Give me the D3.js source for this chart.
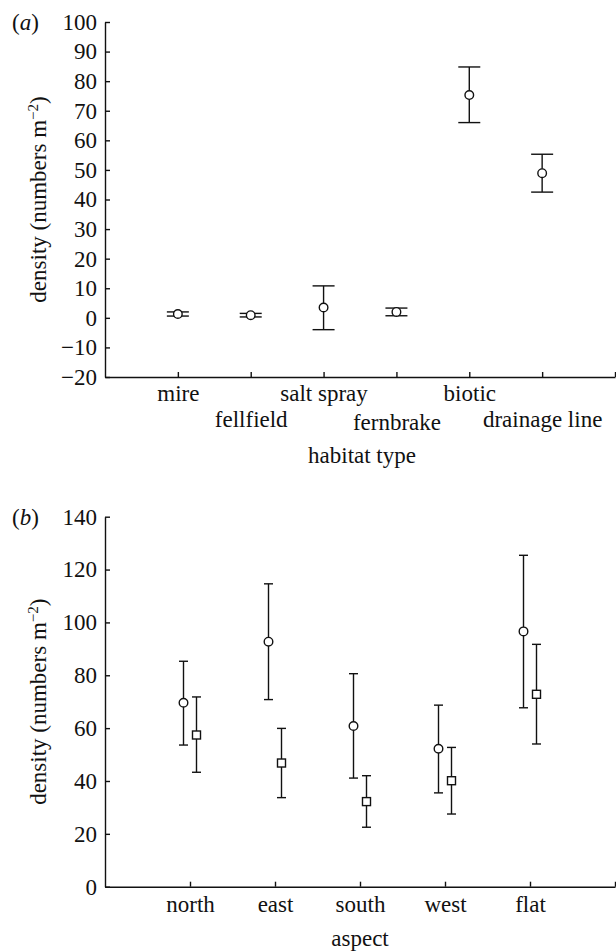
<!DOCTYPE html>
<html>
<head>
<meta charset="utf-8">
<script src="https://d3js.org/d3.v7.min.js"></script>
<style>
  body { margin: 0; background: #fff; }
  svg text { font-family: "Liberation Serif", "Times New Roman", serif; fill: #111; }
</style>
</head>
<body>
<svg id="chart"></svg>
<script>
  // panel (a): density by habitat type
  var habitats = ['mire', 'fellfield', 'salt spray', 'fernbrake', 'biotic', 'drainage line'];
  var habMean = [1.3, 0.9, 3.5, 2.0, 75.3, 48.9];
  var habLow = [0.6, 0.3, -4.0, 0.7, 66.0, 42.5];
  var habHigh = [2.0, 1.5, 10.8, 3.3, 84.8, 55.3];
  var yTicksA = [-20, -10, 0, 10, 20, 30, 40, 50, 60, 70, 80, 90, 100];

  // panel (b): density by aspect, two series (circles and squares)
  var aspects = ['north', 'east', 'south', 'west', 'flat'];
  var circMean = [69.6, 92.7, 60.8, 52.2, 96.6];
  var circLow = [53.6, 70.8, 41.1, 35.5, 67.7];
  var circHigh = [85.3, 114.6, 80.6, 68.7, 125.4];
  var sqMean = [57.4, 46.8, 32.2, 40.1, 72.8];
  var sqLow = [43.3, 33.7, 22.5, 27.5, 54.0];
  var sqHigh = [71.8, 59.9, 42.0, 52.7, 91.7];
  var yTicksB = [0, 20, 40, 60, 80, 100, 120, 140];

  var W = 616, H = 952;
  var fs = 23;
  var svg = d3.select('#chart').attr('width', W).attr('height', H);

  var minus = function(v) { return String(v).replace('-', '\u2212'); };

  function yLabel(cy) {
    var t = svg.append('text')
      .attr('transform', 'translate(46,' + cy + ') rotate(-90)')
      .attr('text-anchor', 'middle')
      .style('font-size', fs + 'px');
    t.append('tspan').text('density (numbers m');
    t.append('tspan').attr('dy', -8).style('font-size', '15px').text('\u22122');
    t.append('tspan').attr('dy', 8).text(')');
  }

  function styleAxis(g) {
    g.selectAll('path, line').attr('stroke', '#111').attr('stroke-width', 1.4);
    g.selectAll('text').style('font-size', fs + 'px').attr('fill', '#111');
  }

  // ---------- panel (a) ----------
  var xA = d3.scaleLinear().domain([0, 7]).range([105, 615]);
  var yA = d3.scaleLinear().domain([-20, 100]).range([377, 22]);

  var gyA = svg.append('g').attr('transform', 'translate(105,0)')
    .call(d3.axisLeft(yA).tickValues(yTicksA).tickSizeInner(-5).tickSizeOuter(0)
      .tickPadding(8).tickFormat(minus));
  styleAxis(gyA);

  var gxA = svg.append('g').attr('transform', 'translate(0,377)')
    .call(d3.axisBottom(xA).tickValues([1, 2, 3, 4, 5, 6, 7]).tickSizeInner(-5).tickSizeOuter(0)
      .tickFormat(function(d) { return habitats[d - 1] || ''; }));
  styleAxis(gxA);
  var rowY = [24, 50, 24, 53, 24, 50, 24];
  gxA.selectAll('text').attr('dy', null)
    .attr('y', function(d, i) { return rowY[i]; });

  svg.append('text').attr('x', 362).attr('y', 463).attr('text-anchor', 'middle')
    .style('font-size', fs + 'px').text('habitat type');
  svg.append('text').attr('x', 12).attr('y', 30).style('font-size', fs + 'px')
    .html('(<tspan font-style="italic">a</tspan>)');
  yLabel(199.5);

  var capA = 11;
  var ebA = svg.append('g').attr('stroke', '#111').attr('stroke-width', 1.4).attr('fill', 'none');
  habitats.forEach(function(h, i) {
    var x = xA(i + 1);
    ebA.append('line').attr('x1', x).attr('x2', x).attr('y1', yA(habLow[i])).attr('y2', yA(habHigh[i]));
    ebA.append('line').attr('x1', x - capA).attr('x2', x + capA).attr('y1', yA(habLow[i])).attr('y2', yA(habLow[i]));
    ebA.append('line').attr('x1', x - capA).attr('x2', x + capA).attr('y1', yA(habHigh[i])).attr('y2', yA(habHigh[i]));
  });
  svg.append('g').selectAll('circle')
    .data(habMean)
    .enter().append('circle')
    .attr('cx', function(d, i) { return xA(i + 1); })
    .attr('cy', function(d) { return yA(d); })
    .attr('r', 4.3)
    .attr('fill', 'white')
    .attr('stroke', '#111')
    .attr('stroke-width', 1.4);

  // ---------- panel (b) ----------
  var xB = d3.scaleLinear().domain([0, 6]).range([105, 615]);
  var yB = d3.scaleLinear().domain([0, 140]).range([886.7, 516.7]);
  var off = 6.5, capB = 4.5;

  var gyB = svg.append('g').attr('transform', 'translate(105,0)')
    .call(d3.axisLeft(yB).tickValues(yTicksB).tickSizeInner(-5).tickSizeOuter(0).tickPadding(8));
  styleAxis(gyB);

  var gxB = svg.append('g').attr('transform', 'translate(0,886.7)')
    .call(d3.axisBottom(xB).tickValues([1, 2, 3, 4, 5, 6]).tickSizeInner(-5).tickSizeOuter(0)
      .tickFormat(function(d) { return aspects[d - 1] || ''; }));
  styleAxis(gxB);
  gxB.selectAll('text').attr('dy', null).attr('y', 25);

  svg.append('text').attr('x', 360).attr('y', 946).attr('text-anchor', 'middle')
    .style('font-size', fs + 'px').text('aspect');
  svg.append('text').attr('x', 12).attr('y', 525).style('font-size', fs + 'px')
    .html('(<tspan font-style="italic">b</tspan>)');
  yLabel(701.7);

  function errorBars(mean, low, high, dx) {
    var g = svg.append('g').attr('stroke', '#111').attr('stroke-width', 1.4).attr('fill', 'none');
    mean.forEach(function(m, i) {
      var x = xB(i + 1) + dx;
      g.append('line').attr('x1', x).attr('x2', x).attr('y1', yB(low[i])).attr('y2', yB(high[i]));
      g.append('line').attr('x1', x - capB).attr('x2', x + capB).attr('y1', yB(low[i])).attr('y2', yB(low[i]));
      g.append('line').attr('x1', x - capB).attr('x2', x + capB).attr('y1', yB(high[i])).attr('y2', yB(high[i]));
    });
  }
  errorBars(circMean, circLow, circHigh, -off);
  errorBars(sqMean, sqLow, sqHigh, off);

  svg.append('g').selectAll('circle')
    .data(circMean)
    .enter().append('circle')
    .attr('cx', function(d, i) { return xB(i + 1) - off; })
    .attr('cy', function(d) { return yB(d); })
    .attr('r', 4.3)
    .attr('fill', 'white')
    .attr('stroke', '#111')
    .attr('stroke-width', 1.4);

  svg.append('g').selectAll('rect')
    .data(sqMean)
    .enter().append('rect')
    .attr('x', function(d, i) { return xB(i + 1) + off - 4; })
    .attr('y', function(d) { return yB(d) - 4; })
    .attr('width', 8)
    .attr('height', 8)
    .attr('fill', 'white')
    .attr('stroke', '#111')
    .attr('stroke-width', 1.4);
</script>
</body>
</html>
